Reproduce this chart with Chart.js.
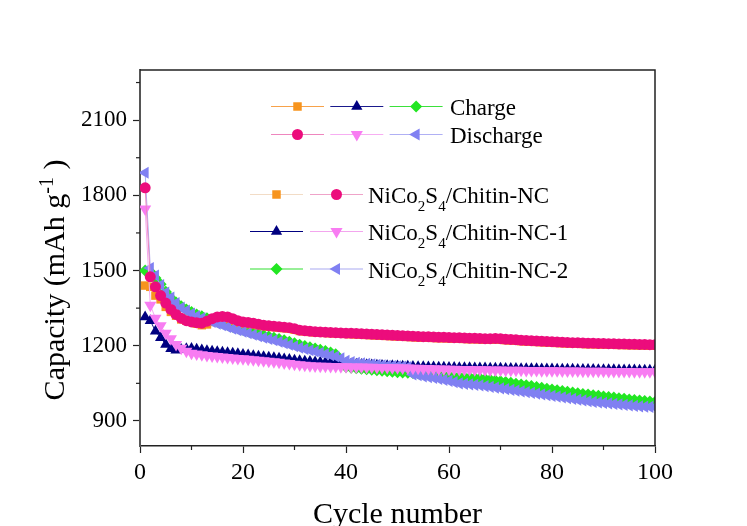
<!DOCTYPE html>
<html lang="en">
<head>
<meta charset="UTF-8">
<title>Cycling performance</title>
<script src="https://cdn.jsdelivr.net/npm/chart.js@4"></script>
<style>
  html, body { margin: 0; padding: 0; background: #fff; }
</style>
</head>
<body>
<canvas id="cycleChart" width="747" height="526"></canvas>
<script>
// cycle numbers 1..100 (x categories)
const cycles = Array.from({ length: 100 }, (_, i) => i + 1);

const xTicks = [0, 10, 20, 30, 40, 50, 60, 70, 80, 90, 100];
const yTicks = [900, 1050, 1200, 1350, 1500, 1650, 1800, 1950, 2100, 2250];

const seriesNames = ['NiCo2S4/Chitin-NC', 'NiCo2S4/Chitin-NC-1', 'NiCo2S4/Chitin-NC-2'];

// NiCo2S4/Chitin-NC
const chargeNC = [
  1440, 1435, 1400, 1385, 1355, 1335, 1320, 1305, 1300, 1295,
  1288, 1282, 1285, 1295, 1305, 1308, 1306, 1300, 1292, 1287,
  1286, 1284, 1281, 1278, 1276, 1274, 1272, 1270, 1268, 1264,
  1259, 1257, 1255, 1253, 1252, 1251, 1250, 1249, 1248, 1247,
  1246, 1245, 1244, 1243, 1242, 1241, 1240, 1239, 1238, 1237,
  1236, 1235, 1234, 1233, 1232, 1232, 1231, 1230, 1230, 1229,
  1228, 1228, 1227, 1226, 1226, 1225, 1224, 1224, 1225, 1224,
  1222, 1221, 1220, 1218, 1217, 1216, 1215, 1214, 1213, 1212,
  1211, 1210, 1209, 1208, 1208, 1207, 1206, 1206, 1205, 1205,
  1204, 1204, 1203, 1203, 1202, 1202, 1201, 1201, 1200, 1200
];
const dischargeNC = [
  1830, 1475, 1435, 1400, 1370, 1345, 1325, 1310, 1300, 1295,
  1292, 1290, 1298, 1308, 1315, 1317, 1315, 1308, 1300, 1295,
  1293, 1290, 1286, 1282, 1280, 1278, 1276, 1274, 1272, 1268,
  1262, 1260, 1258, 1256, 1255, 1254, 1253, 1252, 1251, 1250,
  1250, 1249, 1248, 1247, 1246, 1245, 1244, 1243, 1242, 1241,
  1240, 1239, 1238, 1237, 1236, 1236, 1235, 1234, 1234, 1233,
  1232, 1232, 1231, 1230, 1230, 1229, 1228, 1228, 1229, 1228,
  1226, 1225, 1224, 1222, 1221, 1220, 1219, 1218, 1217, 1216,
  1215, 1214, 1213, 1212, 1212, 1211, 1210, 1210, 1209, 1209,
  1208, 1208, 1207, 1207, 1206, 1206, 1205, 1205, 1204, 1204
];

// NiCo2S4/Chitin-NC-1
const chargeNC1 = [
  1315, 1300, 1258, 1232, 1205, 1188, 1182, 1185, 1188, 1189,
  1186, 1183, 1180, 1178, 1176, 1174, 1172, 1170, 1168, 1165,
  1163, 1160, 1158, 1156, 1154, 1152, 1150, 1147, 1145, 1142,
  1140, 1138, 1137, 1135, 1134, 1133, 1132, 1130, 1129, 1128,
  1127, 1126, 1125, 1124, 1123, 1122, 1121, 1120, 1120, 1119,
  1118, 1118, 1117, 1116, 1116, 1115, 1115, 1114, 1114, 1113,
  1113, 1112, 1112, 1112, 1111, 1111, 1111, 1110, 1110, 1110,
  1109, 1109, 1109, 1108, 1108, 1108, 1108, 1107, 1107, 1107,
  1106, 1106, 1106, 1106, 1105, 1105, 1105, 1105, 1104, 1104,
  1104, 1104, 1103, 1103, 1103, 1103, 1102, 1102, 1102, 1102
];
const dischargeNC1 = [
  1745, 1362, 1310, 1280, 1250, 1228, 1205, 1190, 1178, 1170,
  1167, 1164, 1161, 1159, 1157, 1155, 1153, 1151, 1149, 1148,
  1146, 1144, 1142, 1140, 1138, 1136, 1134, 1131, 1129, 1126,
  1124, 1122, 1120, 1119, 1118, 1118, 1117, 1117, 1116, 1116,
  1115, 1115, 1115, 1114, 1114, 1113, 1113, 1113, 1112, 1112,
  1111, 1111, 1110, 1110, 1109, 1109, 1108, 1107, 1107, 1106,
  1106, 1105, 1105, 1105, 1104, 1104, 1104, 1103, 1103, 1103,
  1102, 1102, 1102, 1102, 1101, 1101, 1101, 1100, 1100, 1100,
  1100, 1099, 1099, 1099, 1099, 1098, 1098, 1098, 1098, 1098,
  1097, 1097, 1097, 1097, 1097, 1096, 1096, 1096, 1096, 1096
];

// NiCo2S4/Chitin-NC-2
const chargeNC2 = [
  1500, 1495, 1470, 1445, 1415, 1390, 1372, 1358, 1345, 1335,
  1325, 1318, 1310, 1302, 1296, 1290, 1283, 1276, 1270, 1264,
  1258, 1252, 1247, 1242, 1237, 1232, 1227, 1222, 1216, 1210,
  1204, 1199, 1194, 1189, 1184, 1179, 1173, 1166, 1125, 1115,
  1112, 1110, 1108, 1106, 1104, 1102, 1100, 1098, 1096, 1094,
  1093, 1092, 1091, 1090, 1089, 1088, 1086, 1084, 1082, 1080,
  1078, 1076, 1074, 1073, 1071, 1070, 1067, 1064, 1061, 1058,
  1055, 1052, 1048, 1045, 1042, 1039, 1035, 1032, 1028, 1025,
  1022, 1019, 1016, 1013, 1010, 1007, 1005, 1002, 1000, 997,
  995, 993, 990, 988, 986, 984, 982, 980, 978, 976
];
const dischargeNC2 = [
  1890, 1510, 1480, 1442, 1412, 1392, 1370, 1352, 1340, 1328,
  1318, 1310, 1302, 1295, 1288, 1282, 1275, 1268, 1262, 1256,
  1250, 1244, 1238, 1232, 1227, 1222, 1216, 1210, 1204, 1198,
  1192, 1187, 1182, 1177, 1172, 1167, 1162, 1157, 1150, 1140,
  1135, 1132, 1130, 1128, 1126, 1124, 1122, 1120, 1119, 1118,
  1117, 1115, 1085, 1082, 1078, 1075, 1072, 1068, 1064, 1060,
  1055, 1050, 1048, 1046, 1044, 1042, 1039, 1036, 1033, 1030,
  1027, 1024, 1021, 1018, 1015, 1012, 1009, 1006, 1003, 1000,
  997, 994, 991, 988, 985, 982, 979, 976, 974, 972,
  970, 968, 966, 964, 962, 960, 958, 957, 956, 955
];

const FONT = '"Liberation Serif", "Times New Roman", serif';

// marker looks for each series
const marks = {
  chargeNC:     { color: '#F7941D', line: '#F5A24C', style: 'rect',     radius: 6,   rotation: 0 },
  chargeNC1:    { color: '#000080', line: '#1A1A8C', style: 'triangle', radius: 6.5, rotation: 0 },
  chargeNC2:    { color: '#22E622', line: '#3BE03B', style: 'rectRot',  radius: 6,   rotation: 0 },
  dischargeNC:  { color: '#EC0C7C', line: '#EE86BE', style: 'circle',   radius: 5.5, rotation: 0 },
  dischargeNC1: { color: '#F87CF2', line: '#F5AAF0', style: 'triangle', radius: 7,   rotation: 180 },
  dischargeNC2: { color: '#8080F2', line: '#AEAEF4', style: 'triangle', radius: 7,   rotation: -90 }
};

function makeSet(label, values, m, order) {
  return {
    label,
    data: values.map((v, i) => ({ x: cycles[i], y: v })),
    borderColor: m.line,
    backgroundColor: m.color,
    pointBackgroundColor: m.color,
    pointBorderColor: m.color,
    pointBorderWidth: 0,
    pointStyle: m.style,
    pointRadius: m.radius,
    pointRotation: m.rotation,
    borderWidth: 1,
    order
  };
}

function drawMarker(ctx, m, x, y) {
  ctx.fillStyle = m.color;
  ctx.strokeStyle = m.color;
  Chart.helpers.drawPoint(ctx, { pointStyle: m.style, radius: m.radius, rotation: m.rotation, borderWidth: 0 }, x, y);
}

// text drawn in pieces: subscripts lowered, superscripts raised
function drawRich(ctx, parts, x, y, size) {
  for (const p of parts) {
    const small = p.sub || p.sup;
    ctx.font = (small ? Math.round(size * 0.66) : size) + 'px ' + FONT;
    const dy = p.sub ? 8 : p.sup ? -11 : 0;
    ctx.fillText(p.t, x, y + dy);
    x += ctx.measureText(p.t).width;
  }
  return x;
}
function chemParts(name) {
  return name.split(/(?<=[A-Za-z])(\d)/).filter(s => s !== '').map((s, i, arr) => {
    const prev = i > 0 ? arr[i - 1] : '';
    return { t: s, sub: /^\d$/.test(s) && /[A-Za-z]$/.test(prev) };
  });
}
function richWidth(ctx, parts, size) {
  let w = 0;
  for (const p of parts) {
    ctx.font = ((p.sub || p.sup) ? Math.round(size * 0.66) : size) + 'px ' + FONT;
    w += ctx.measureText(p.t).width;
  }
  return w;
}

const decor = {
  id: 'decor',
  beforeDraw(chart) {
    const ctx = chart.ctx;
    ctx.save();
    ctx.fillStyle = '#fff';
    ctx.fillRect(0, 0, chart.width, chart.height);
    ctx.restore();
  },
  afterDraw(chart) {
    const { ctx, chartArea: a, scales: { x, y } } = chart;
    ctx.save();

    // top and right frame
    ctx.strokeStyle = '#222';
    ctx.lineWidth = 1.5;
    ctx.beginPath();
    ctx.moveTo(a.left, a.top);
    ctx.lineTo(a.right, a.top);
    ctx.lineTo(a.right, a.bottom);
    ctx.stroke();

    // minor ticks
    ctx.lineWidth = 1.2;
    xTicks.filter(v => v % 20 !== 0).forEach(v => {
      const px = x.getPixelForValue(v);
      ctx.beginPath(); ctx.moveTo(px, a.bottom); ctx.lineTo(px, a.bottom + 4); ctx.stroke();
    });
    yTicks.filter(v => v % 300 !== 0).forEach(v => {
      const py = y.getPixelForValue(v);
      ctx.beginPath(); ctx.moveTo(a.left - 4, py); ctx.lineTo(a.left, py); ctx.stroke();
    });

    // legend, block 1 (charge / discharge)
    ctx.fillStyle = '#000';
    ctx.textBaseline = 'alphabetic';
    ctx.textAlign = 'left';
    const seg = (m, x0, yy, lineColor) => {
      ctx.strokeStyle = lineColor;
      ctx.lineWidth = 1.2;
      ctx.beginPath(); ctx.moveTo(x0, yy); ctx.lineTo(x0 + 53, yy); ctx.stroke();
      drawMarker(ctx, m, x0 + 26.5, yy);
    };
    const rows1 = [
      { y: 106.5, text: 'Charge', items: [[marks.chargeNC, '#F7A24A'], [marks.chargeNC1, '#1A1A8C'], [marks.chargeNC2, '#3BE03B']] },
      { y: 134.5, text: 'Discharge', items: [[marks.dischargeNC, '#EE86BE'], [marks.dischargeNC1, '#F7AEF2'], [marks.dischargeNC2, '#B0B0F4']] }
    ];
    rows1.forEach(r => {
      r.items.forEach((it, i) => seg(it[0], 271 + i * 59.3, r.y, it[1]));
      ctx.fillStyle = '#000';
      ctx.font = '23px ' + FONT;
      ctx.fillText(r.text, 450, r.y + 8.5);
    });

    // legend, block 2 (materials)
    const rows2 = [
      { y: 194.5, items: [[marks.chargeNC, '#F2DCC6'], [marks.dischargeNC, '#EFA3C9']] },
      { y: 231.5, items: [[marks.chargeNC1, '#000080'], [marks.dischargeNC1, '#F3A6EE']] },
      { y: 269, items: [[marks.chargeNC2, '#33E033'], [marks.dischargeNC2, '#A9A9F2']] }
    ];
    rows2.forEach((r, k) => {
      r.items.forEach((it, i) => seg(it[0], 250 + i * 60, r.y, it[1]));
      ctx.fillStyle = '#000';
      drawRich(ctx, chemParts(seriesNames[k]), 368, r.y + 8.5, 23);
    });

    // axis titles
    ctx.fillStyle = '#000';
    ctx.font = '30px ' + FONT;
    ctx.textAlign = 'center';
    ctx.fillText('Cycle number', (a.left + a.right) / 2, 523);

    ctx.textAlign = 'left';
    const yParts = [{ t: 'Capacity (mAh g' }, { t: '-1', sup: true }, { t: ' )' }];
    const w = richWidth(ctx, yParts, 30);
    ctx.translate(64, 280);
    ctx.rotate(-Math.PI / 2);
    drawRich(ctx, yParts, -w / 2, 0, 30);

    ctx.restore();
  }
};

new Chart(document.getElementById('cycleChart'), {
  type: 'line',
  data: {
    datasets: [
      makeSet('Charge ' + seriesNames[0], chargeNC, marks.chargeNC, 1),
      makeSet('Charge ' + seriesNames[1], chargeNC1, marks.chargeNC1, 1),
      makeSet('Charge ' + seriesNames[2], chargeNC2, marks.chargeNC2, 1),
      makeSet('Discharge ' + seriesNames[0], dischargeNC, marks.dischargeNC, 0),
      makeSet('Discharge ' + seriesNames[1], dischargeNC1, marks.dischargeNC1, 0),
      makeSet('Discharge ' + seriesNames[2], dischargeNC2, marks.dischargeNC2, 0)
    ]
  },
  options: {
    responsive: false,
    animation: false,
    layout: { padding: { left: 0, top: 70, right: 92, bottom: 0 } },
    plugins: { legend: { display: false }, tooltip: { enabled: false } },
    scales: {
      x: {
        type: 'linear',
        min: 0,
        max: 100,
        afterBuildTicks: s => { s.ticks = xTicks.map(v => ({ value: v })); },
        afterFit: s => { s.height = 80; },
        ticks: {
          autoSkip: false,
          maxRotation: 0,
          padding: 5,
          color: '#000',
          font: { family: FONT, size: 24 },
          callback: v => (v % 20 === 0 ? String(v) : '')
        },
        grid: {
          drawOnChartArea: false,
          tickLength: 7,
          tickWidth: 1.2,
          tickColor: c => (c.tick && c.tick.value % 20 === 0 ? '#222' : 'rgba(0,0,0,0)')
        },
        border: { color: '#222', width: 1.5 }
      },
      y: {
        min: 800,
        max: 2300,
        afterBuildTicks: s => { s.ticks = yTicks.map(v => ({ value: v })); },
        afterFit: s => { s.width = 140; },
        ticks: {
          autoSkip: false,
          padding: 6,
          color: '#000',
          font: { family: FONT, size: 23 },
          callback: v => (v % 300 === 0 ? String(v) : '')
        },
        grid: {
          drawOnChartArea: false,
          tickLength: 7,
          tickWidth: 1.2,
          tickColor: c => (c.tick && c.tick.value % 300 === 0 ? '#222' : 'rgba(0,0,0,0)')
        },
        border: { color: '#555', width: 2 }
      }
    }
  },
  plugins: [decor]
});
</script>
</body>
</html>
